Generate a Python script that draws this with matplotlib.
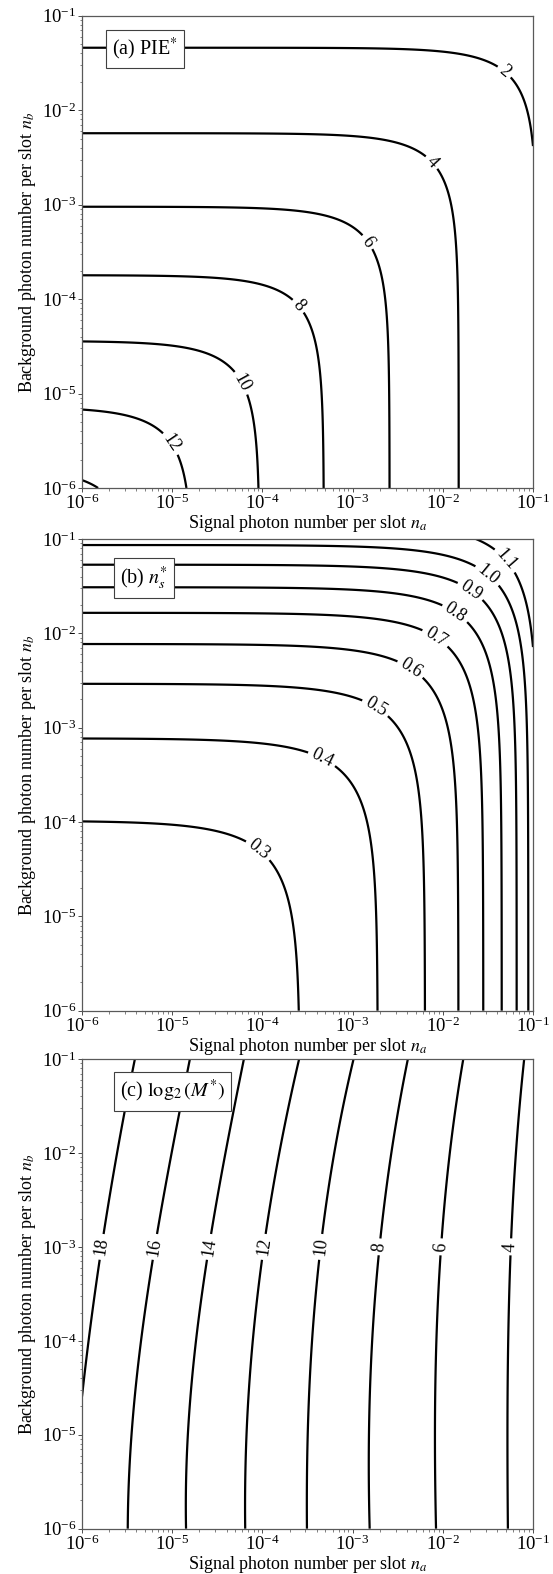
import numpy as np
import matplotlib
matplotlib.use('Agg')
import matplotlib.pyplot as plt
from matplotlib.ticker import LogLocator, NullFormatter

plt.rcParams['font.family'] = ['Liberation Serif', 'DejaVu Serif']
plt.rcParams['mathtext.fontset'] = 'stix'
plt.rcParams['font.size'] = 13

# ---------------- data ----------------
# (a) PIE* : level, vertical asymptote (na) and horizontal asymptote (nb)
pie_levels = [2, 4, 6, 8, 10, 12, 14]
pie_na_edge = [1.10e-1, 1.50e-2, 2.57e-3, 4.80e-4, 9.30e-5, 1.67e-5, 3.9e-6]
pie_nb_edge = [4.58e-2, 5.70e-3, 9.50e-4, 1.79e-4, 3.60e-5, 7.20e-6, 1.63e-6]
pie_lab_na = [5.0e-2, 7.4e-3, 1.41e-3, 2.44e-4, 5.74e-5, 1.03e-5, None]
pie_lab_nb = [2.66e-2, 2.75e-3, 3.91e-4, 8.26e-5, 1.28e-5, 3.07e-6, None]

# (b) n_s*
ns_levels = [0.3, 0.4, 0.5, 0.6, 0.7, 0.8, 0.9, 1.0, 1.1]
ns_na_edge = [2.61e-4, 1.90e-3, 6.35e-3, 1.49e-2, 2.81e-2, 4.50e-2, 6.59e-2, 8.87e-2, 1.12e-1]
ns_nb_edge = [1.03e-4, 7.70e-4, 2.92e-3, 7.71e-3, 1.65e-2, 3.08e-2, 5.34e-2, 8.63e-2, 1.52e-1]
ns_lab_na = [9.0e-5, 4.67e-4, 1.82e-3, 4.43e-3, 8.41e-3, 1.40e-2, 2.06e-2, 3.27e-2, 5.0e-2]
ns_lab_nb = [5.03e-5, 4.9e-4, 1.67e-3, 4.26e-3, 9.2e-3, 1.69e-2, 2.88e-2, 4.33e-2, 5.99e-2]

# (c) log2(M*) : na of each contour at the reference nb values
m_levels = [4, 6, 8, 10, 12, 14, 16, 18]
m_nb_ref = [1e-6, 1e-5, 1e-4, 1e-3, 1e-2, 1e-1]
m_na = [
    [5.25e-2, 5.25e-2, 5.32e-2, 5.56e-2, 6.59e-2, 7.94e-2],
    [8.34e-3, 8.34e-3, 8.55e-3, 9.08e-3, 1.256e-2, 1.663e-2],
    [1.53e-3, 1.56e-3, 1.64e-3, 1.90e-3, 2.82e-3, 4.04e-3],
    [3.10e-4, 3.23e-4, 3.52e-4, 4.36e-4, 6.38e-4, 1.019e-3],
    [6.41e-5, 6.81e-5, 7.60e-5, 1.05e-4, 1.54e-4, 2.55e-4],
    [1.42e-5, 1.51e-5, 1.79e-5, 2.62e-5, 3.85e-5, 6.25e-5],
    [3.21e-6, 3.56e-6, 4.48e-6, 6.44e-6, 9.86e-6, 1.57e-5],
    [7.4e-7, 8.9e-7, 1.2e-6, 1.65e-6, 2.43e-6, 3.87e-6],
]
m_lab_nb = 1e-3

# ---------------- figure ----------------
W, H = 553, 1574
fig = plt.figure(figsize=(W / 100, H / 100), dpi=100)
L = 82 / W
Wd = 451 / W
panels_px = [(15.7, 488.0), (539.0, 1010.7), (1059.0, 1528.7)]
axes = []
for top, bot in panels_px:
    axes.append(fig.add_axes([L, 1 - bot / H, Wd, (bot - top) / H]))

xg = np.logspace(-6, -1, 500)
yg = np.logspace(-6, -1, 500)
X, Y = np.meshgrid(xg, yg)

LW = 1.6
LAB_FS = 13
BOX = dict(boxstyle='square,pad=0.3', fc='white', ec='0.25', lw=0.8)


def style_axis(ax):
    ax.set_xscale('log')
    ax.set_yscale('log')
    ax.set_xlim(1e-6, 1e-1)
    ax.set_ylim(1e-6, 1e-1)
    for a in (ax.xaxis, ax.yaxis):
        a.set_major_locator(LogLocator(base=10, numticks=10))
        a.set_minor_locator(LogLocator(base=10, subs=np.arange(2, 10), numticks=10))
        a.set_minor_formatter(NullFormatter())
    ax.tick_params(which='major', direction='out', length=3, width=0.7,
                   color='0.3', labelsize=13.5)
    ax.tick_params(which='minor', direction='out', length=1.8, width=0.5, color='0.3')
    ax.tick_params(axis='x', which='major', pad=1.0)
    ax.tick_params(axis='y', which='major', pad=1.0)
    for s in ax.spines.values():
        s.set_color('0.35')
        s.set_linewidth(0.9)
    ax.set_xlabel('Signal photon number per slot $n_a$', fontsize=13, labelpad=0)
    ax.set_ylabel('Background photon number per slot $n_b$', fontsize=13, labelpad=3)


def corner_contours(ax, levels, na_e, nb_e, lab_na, lab_nb, p, fmtf):
    for lv, a, b, lx, ly in zip(levels, na_e, nb_e, lab_na, lab_nb):
        g = (X / a) ** p + (Y / b) ** p
        cs = ax.contour(X, Y, g, levels=[1.0], colors='k', linewidths=LW)
        if lx is not None:
            ax.clabel(cs, fmt={1.0: fmtf(lv)}, manual=[(lx, ly)], inline=True,
                      fontsize=LAB_FS, inline_spacing=4)


# (a)
ax = axes[0]
style_axis(ax)
corner_contours(ax, pie_levels, pie_na_edge, pie_nb_edge, pie_lab_na, pie_lab_nb,
                1.0, lambda v: f'{v:d}')
ax.text(0.139, 0.930, r'(a) PIE$^{*}$', transform=ax.transAxes, ha='center',
        va='center', fontsize=14.5, zorder=10, bbox=BOX)

# (b)
ax = axes[1]
style_axis(ax)
corner_contours(ax, ns_levels, ns_na_edge, ns_nb_edge, ns_lab_na, ns_lab_nb,
                0.8, lambda v: f'{v:.1f}')
ax.text(0.137, 0.917, r'(b) $n_s^{*}$', transform=ax.transAxes, ha='center',
        va='center', fontsize=14.5, zorder=10, bbox=BOX)

# (c)
ax = axes[2]
style_axis(ax)
lx = np.log10(X)
ly = np.log10(Y)
lnb = np.log10(m_nb_ref)
for lv, row in zip(m_levels, m_na):
    coef = np.polyfit(lnb, np.log10(row), 3)
    g = lx - np.polyval(coef, ly)
    cs = ax.contour(X, Y, g, levels=[0.0], colors='k', linewidths=LW)
    x_lab = 10 ** np.polyval(coef, np.log10(m_lab_nb))
    ax.clabel(cs, fmt={0.0: f'{lv:d}'}, manual=[(x_lab, m_lab_nb)], inline=True,
              fontsize=LAB_FS, inline_spacing=4)
ax.text(0.20, 0.931, r'(c) $\log_2(M^{*})$', transform=ax.transAxes, ha='center',
        va='center', fontsize=14.5, zorder=10, bbox=BOX)

fig.savefig('out.png', dpi=100)
